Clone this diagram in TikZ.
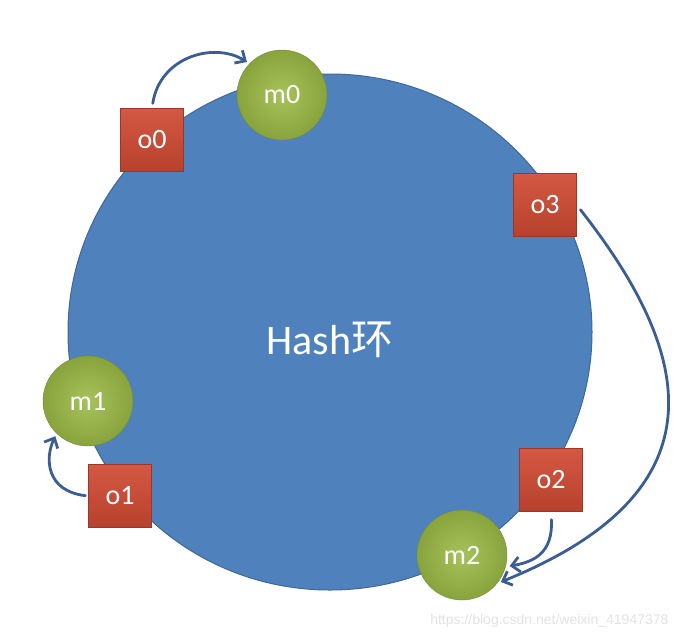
\documentclass[tikz,border=0pt]{standalone}
\usepackage{fontspec}
\setmainfont{Carlito}
\newfontfamily\cjk{Noto Sans CJK SC}
\newfontfamily\wmfont{Liberation Sans}
\usetikzlibrary{arrows.meta}
\definecolor{ringblue}{HTML}{4F81BD}
\definecolor{objred}{HTML}{D04A33}
\definecolor{srvgreen}{HTML}{9BBA45}
\definecolor{linkblue}{HTML}{3A5E93}
\tikzset{
  obj/.style={rectangle, draw=objred!75!black, top color=objred!92!white, bottom color=objred!88!black,
    minimum size=63pt, inner sep=0pt, text=white, font=\fontsize{28}{28}\selectfont},
  srv/.style={circle, draw=srvgreen!75!black, inner color=srvgreen!88!white, outer color=srvgreen!88!black,
    minimum size=90pt, inner sep=0pt, text=white, font=\fontsize{28}{28}\selectfont},
  link/.style={draw=linkblue, line width=2.8pt, line cap=round,
    -{Straight Barb[length=8pt,width=15pt]}}
}
\begin{document}
\begin{tikzpicture}[x=1pt,y=-1pt]
\useasboundingbox[fill=white] (0,0) rectangle (680,638);
% ring
\draw[fill=ringblue, draw=ringblue!80!black, line width=1pt] (330,332) ellipse [x radius=262, y radius=258];
\node[text=white, font=\fontsize{42}{42}\selectfont] (ring) at (330,340) {Hash{\cjk 环}};
% servers and objects
\node[srv] (m0) at (282,95) {m0};
\node[srv] (m1) at (88,401) {m1};
\node[srv] (m2) at (462,555) {m2};
\node[obj] (o0) at (152,140) {o0};
\node[obj] (o1) at (120,496) {o1};
\node[obj] (o2) at (551,480) {o2};
\node[obj] (o3) at (545,205) {o3};
% mapping
\draw[link, shorten <=5pt, shorten >=3pt] (o0.north) .. controls +(8,-52) and +(-35,-22) .. (m0.136);
\draw[link, shorten <=3pt, shorten >=3pt] (o1.west) .. controls +(-42,-5) and +(-12,25) .. (m1.226);
\draw[link, shorten <=6pt, shorten >=4pt] (o3.east) .. controls +(118,150) and +(228,-92) .. (m2.321);
\draw[link, shorten <=8pt, shorten >=4pt] (o2.south) .. controls +(2,40) and +(30,-5) .. (m2.345);
% watermark
\node[anchor=east, text=gray!22, font=\wmfont\fontsize{14}{14}\selectfont] (wm) at (672,621) {https://blog.csdn.net/weixin\_41947378};
\end{tikzpicture}
\end{document}
